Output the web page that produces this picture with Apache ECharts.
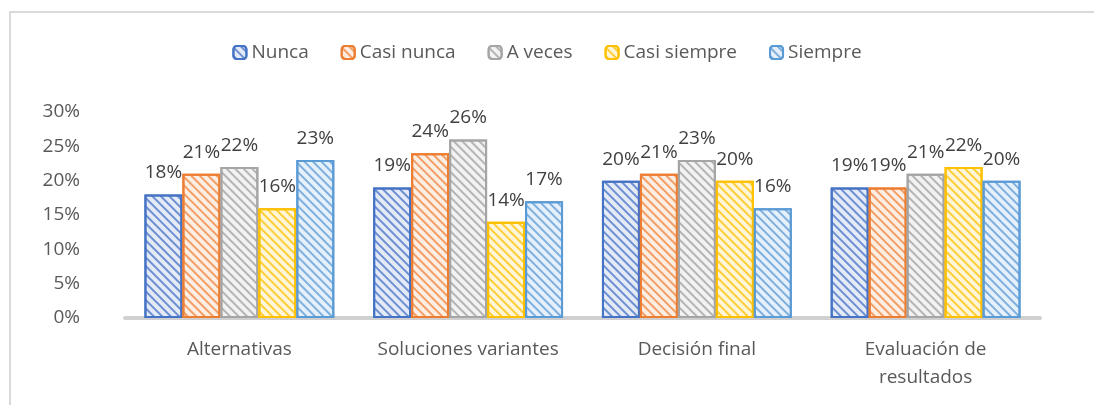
<!DOCTYPE html>
<html>
<head>
<meta charset="utf-8">
<script src="https://cdn.jsdelivr.net/npm/echarts@6/dist/echarts.min.js"></script>
<style>
  html, body { margin: 0; padding: 0; background: #fff; }
  #frame { position: absolute; left: 9px; top: 11px; width: 1100px; height: 420px; border: 2px solid #d9d9d9; box-sizing: border-box; }
  #chart { position: absolute; left: 0; top: 0; width: 1094px; height: 405px; }
</style>
</head>
<body>
<div id="frame"></div>
<div id="chart"></div>
<script>
  // datos del gráfico (porcentajes)
  const categories = ['Alternativas', 'Soluciones variantes', 'Decisión final', 'Evaluación de\nresultados']
  const seriesNames = ['Nunca', 'Casi nunca', 'A veces', 'Casi siempre', 'Siempre']
  const nunca = [18, 19, 20, 19]
  const casiNunca = [21, 24, 21, 19]
  const aVeces = [22, 26, 23, 21]
  const casiSiempre = [16, 14, 20, 22]
  const siempre = [23, 17, 16, 20]
  const yTicks = [0, 5, 10, 15, 20, 25, 30]

  const values = [nunca, casiNunca, aVeces, casiSiempre, siempre]
  const mainColors = ['#4472C4', '#ED7D31', '#A5A5A5', '#FFC000', '#5B9BD5']
  const stripeColors = ['rgba(68,114,196,0.75)', 'rgba(237,125,49,0.7)', 'rgba(165,165,165,0.8)', 'rgba(255,192,0,0.75)', 'rgba(91,155,213,0.75)']
  const lightColors = ['#e4ebf7', '#fdeee4', '#f2f2f2', '#fff6d9', '#e6f0fa']
  const font = 'Open Sans'

  var myChart = echarts.init(document.getElementById('chart'))
  let option = {
    backgroundColor: 'transparent',
    textStyle: { fontFamily: font },
    legend: {
      top: 38,
      left: 'center',
      itemWidth: 13,
      itemHeight: 13,
      itemGap: 32,
      textStyle: { color: '#595959', fontSize: 19, fontFamily: font },
      data: seriesNames
    },
    grid: { left: 125, right: 54, top: 112, bottom: 87 },
    xAxis: {
      type: 'category',
      data: categories,
      axisLine: { lineStyle: { color: '#d0d0d0', width: 4 } },
      axisTick: { show: false },
      axisLabel: { interval: 0, color: '#595959', fontSize: 19, fontFamily: font, margin: 18, lineHeight: 28 }
    },
    yAxis: {
      type: 'value',
      min: yTicks[0],
      max: yTicks[yTicks.length - 1],
      interval: 5,
      axisLine: { show: false },
      axisTick: { show: false },
      splitLine: { show: false },
      axisLabel: { color: '#595959', fontSize: 19, fontFamily: font, margin: 45, formatter: '{value}%' }
    },
    series: seriesNames.map((name, i) => ({
      name: name,
      type: 'bar',
      barGap: '0%',
      barCategoryGap: '17%',
      data: values[i],
      itemStyle: {
        color: lightColors[i],
        borderColor: mainColors[i],
        borderWidth: 2,
        decal: {
          color: stripeColors[i],
          symbol: 'rect',
          symbolSize: 1,
          dashArrayX: [[1, 0]],
          dashArrayY: [1.2, 3.3],
          rotation: Math.PI / 4
        }
      },
      label: {
        show: true,
        position: 'top',
        distance: 12,
        color: '#404040',
        fontSize: 19,
        fontFamily: font,
        formatter: '{c}%'
      }
    }))
  }
  myChart.setOption(option)
</script>
</body>
</html>
